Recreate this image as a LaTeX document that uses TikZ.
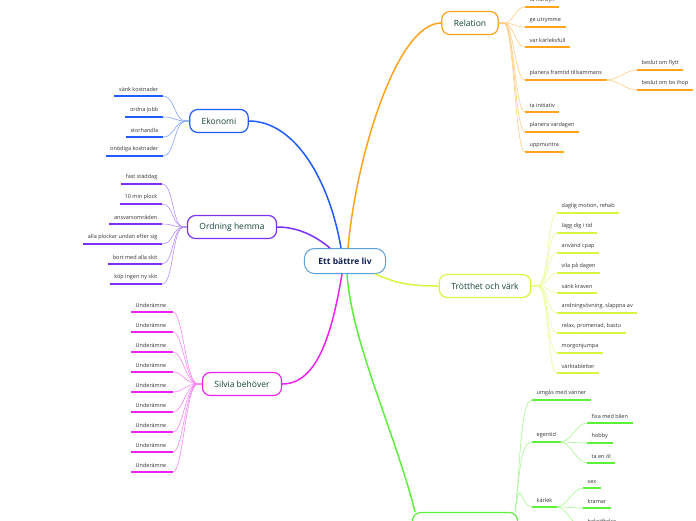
\documentclass[tikz,border=0pt]{standalone}
\usepackage{fontspec}
\setmainfont{Open Sans}
\usepackage{xcolor}
\usepackage{tikz}

\definecolor{rootblue}{HTML}{5A9FD6}
\definecolor{rootnavy}{HTML}{102050}
\definecolor{topictext}{HTML}{12443A}
\definecolor{leaftext}{HTML}{333333}
\definecolor{ekoblue}{HTML}{1F5BFF}
\definecolor{ordpurple}{HTML}{7B2FF7}
\definecolor{silmag}{HTML}{EE22EE}
\definecolor{relorange}{HTML}{FFA31A}
\definecolor{trolime}{HTML}{D9F542}
\definecolor{grn}{HTML}{5CF03A}

\tikzset{
  topic/.style={draw=#1, line width=1.2pt, rounded corners=8pt, fill=white,
    inner xsep=12pt, minimum height=23pt, text=topictext,
    font=\fontsize{8.5}{10}\selectfont},
  leafL/.style={anchor=south east, inner xsep=4.5pt, inner ysep=4pt,
    text=leaftext, font=\fontsize{5.5}{6.5}\selectfont},
  leafR/.style={anchor=south west, inner xsep=4.5pt, inner ysep=4pt,
    text=leaftext, font=\fontsize{5.5}{6.5}\selectfont},
  uline/.style={draw=#1, line width=1.3pt},
  twig/.style={draw=#1!55, line width=0.6pt},
  branch/.style={draw=#1, line width=1.5pt}
}

\begin{document}
\begin{tikzpicture}[x=1pt, y=-1pt]

\useasboundingbox (0,0) rectangle (696,520);

% main topics
\node[draw=rootblue, line width=1pt, rounded corners=10pt, fill=white,
  inner xsep=14pt, minimum height=25pt, text=rootnavy,
  font=\fontsize{8.5}{10}\selectfont\bfseries] (root) at (345,261) {Ett bättre liv};
\node[topic=ekoblue] (ekonomi) at (219,121) {Ekonomi};
\node[topic=ordpurple] (ordning) at (232,227) {Ordning hemma};
\node[topic=silmag] (silvia) at (242,384) {Silvia behöver};
\node[topic=relorange] (relation) at (470,23) {Relation};
\node[topic=trolime] (trotthet) at (485,286) {Trötthet och värk};
\node[topic=grn, minimum width=105pt] (samvaro) at (465,524) {};

% branches from the centre
\draw[branch=ekoblue] (ekonomi.east) .. controls +(45,0) and +(-12,-70) .. ([xshift=-4pt]root.north);
\draw[branch=relorange] (relation.west) .. controls +(-45,0) and +(8,-90) .. ([xshift=3pt]root.north);
\draw[branch=ordpurple] (ordning.east) .. controls +(25,0) and +(-10,-8) .. ([xshift=-15pt]root.north);
\draw[branch=silmag] (silvia.east) .. controls +(35,0) and +(-10,60) .. ([xshift=-3pt]root.south);
\draw[branch=trolime] (trotthet.west) .. controls +(-35,0) and +(20,8) .. ([xshift=30pt]root.south);
\draw[branch=grn] ([xshift=-50pt]samvaro.north) .. controls +(-20,-80) and +(5,70) .. ([xshift=2pt]root.south);

% Ekonomi
\foreach \i/\y/\txt in {1/96/sänk kostnader, 2/117/ordna jobb, 3/137/storhandla, 4/156/onödiga kostnader}{
  \node[leafL] (eko\i) at (163,\y) {\txt};
  \draw[uline=ekoblue] (eko\i.south west) -- (eko\i.south east);
  \draw[twig=ekoblue] (ekonomi.west) -- ++(-3,0) .. controls +(-12,0) and +(12,0) .. (eko\i.south east);
}

% Ordning hemma
\foreach \i/\y/\txt in {1/184/fast städdag, 2/204/10 min plock, 3/224/ansvarsområden,
  4/244/alla plockar undan efter sig, 5/264/bort med alla skit, 6/284/köp ingen ny skit}{
  \node[leafL] (ord\i) at (162,\y) {\txt};
  \draw[uline=ordpurple] (ord\i.south west) -- (ord\i.south east);
  \draw[twig=ordpurple] (ordning.west) -- ++(-3,0) .. controls +(-12,0) and +(12,0) .. (ord\i.south east);
}

% Silvia behöver
\foreach \i/\y in {1/312, 2/332, 3/352, 4/372, 5/392, 6/412, 7/432, 8/452, 9/472}{
  \node[leafR] (sil\i) at (131,\y) {Underämne};
  \draw[uline=silmag] (sil\i.south west) -- (173,\y);
  \draw[twig=silmag] (silvia.west) -- ++(-4,0) .. controls +(-12,0) and +(10,0) .. (173,\y);
}

% Relation
\foreach \i/\y/\txt in {1/7/ta hänsyn, 2/27/ge utrymme, 3/47/var kärleksfull,
  4/80/planera framtid tillsammans, 5/112/ta initiativ, 6/132/planera vardagen, 7/152/uppmuntra}{
  \node[leafR] (rel\i) at (525,\y) {\txt};
  \draw[uline=relorange] (rel\i.south west) -- (rel\i.south east);
  \draw[twig=relorange] (relation.east) -- ++(5,0) .. controls +(10,0) and +(-10,0) .. (rel\i.south west);
}
\foreach \i/\y/\txt in {1/70/beslut om flytt, 2/90/beslut om bo ihop}{
  \node[leafR] (fram\i) at (637,\y) {\txt};
  \draw[uline=relorange] (fram\i.south west) -- (fram\i.south east);
  \draw[twig=relorange] (rel4.south east) .. controls +(12,0) and +(-12,0) .. (fram\i.south west);
}

% Trötthet och värk
\foreach \i/\y/\txt in {1/213/{daglig motion, rehab}, 2/233/lägg dig i tid, 3/253/använd cpap,
  4/273/vila på dagen, 5/293/sänk kraven, 6/313/{andningsövning, slappna av},
  7/333/{relax, promenad, bastu}, 8/353/morgonjumpa, 9/373/värktabletter}{
  \node[leafR] (tro\i) at (557,\y) {\txt};
  \draw[uline=trolime] (tro\i.south west) -- (tro\i.south east);
  \draw[twig=trolime] (trotthet.east) -- ++(6,0) .. controls +(12,0) and +(-10,0) .. (tro\i.south west);
}

% bottom branch
\foreach \i/\y/\txt in {1/400/umgås med vänner, 2/442/egentid, 3/507/kärlek}{
  \node[leafR] (sam\i) at (532,\y) {\txt};
  \draw[uline=grn] (sam\i.south west) -- (sam\i.south east);
  \draw[twig=grn] ([xshift=-3pt]samvaro.north east) .. controls +(5,-40) and +(-12,0) .. (sam\i.south west);
}
\foreach \i/\y/\txt in {1/423/fixa med bilen, 2/443/hobby, 3/463/ta en öl}{
  \node[leafR] (egen\i) at (587,\y) {\txt};
  \draw[uline=grn] (egen\i.south west) -- (egen\i.south east);
  \draw[twig=grn] (sam2.south east) .. controls +(10,0) and +(-10,0) .. (egen\i.south west);
}
\foreach \i/\y/\txt in {1/488/sex, 2/508/kramar, 3/528/bekräftelse}{
  \node[leafR] (karl\i) at (583,\y) {\txt};
  \draw[uline=grn] (karl\i.south west) -- (karl\i.south east);
  \draw[twig=grn] (sam3.south east) .. controls +(10,0) and +(-10,0) .. (karl\i.south west);
}

\end{tikzpicture}
\end{document}
